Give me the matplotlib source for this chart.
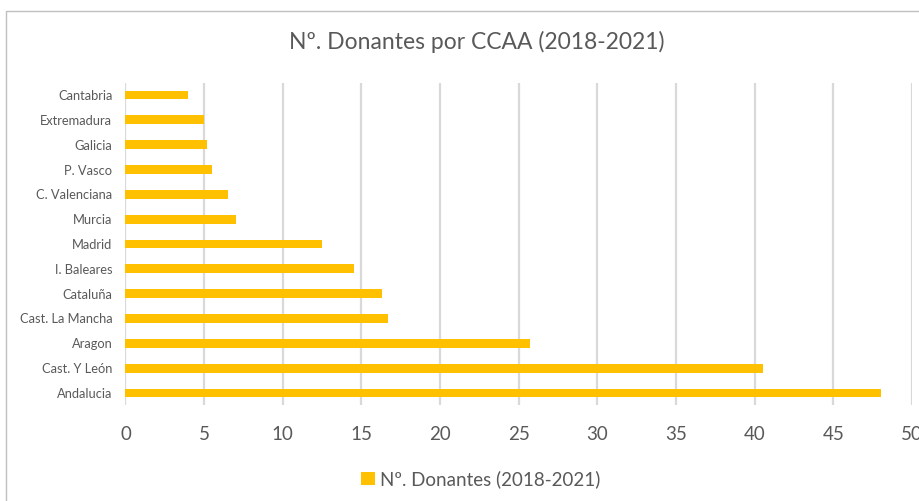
import matplotlib
matplotlib.use("Agg")
import matplotlib.pyplot as plt
from matplotlib.patches import Rectangle

categories = ["Andalucia", "Cast. Y León", "Aragon", "Cast. La Mancha", "Cataluña",
              "I. Baleares", "Madrid", "Murcia", "C. Valenciana", "P. Vasco",
              "Galicia", "Extremadura", "Cantabria"]
values = [48, 40.5, 25.7, 16.7, 16.3, 14.5, 12.5, 7.0, 6.5, 5.5, 5.2, 5.0, 4.0]
xticks = [0, 5, 10, 15, 20, 25, 30, 35, 40, 45, 50]
series_name = "Nº. Donantes (2018-2021)"
title = "Nº. Donantes por CCAA (2018-2021)"

plt.rcParams['font.family'] = ['Lato', 'DejaVu Sans']
txt = "#595959"
bar_color = "#FFC000"

fig = plt.figure(figsize=(9.20, 5.01), dpi=100)
fig.patch.set_facecolor("white")
# chart frame (cut off at right/bottom)
fig.patches.append(Rectangle((6/920, -0.1), 1.2, (1 - 11/501) + 0.1,
                             transform=fig.transFigure, fill=False,
                             edgecolor="#BFBFBF", linewidth=1.0))

ax = fig.add_axes([125.5/920, 1 - 405.4/501, (912 - 125.5)/920, (405.4 - 82.6)/501])
ypos = list(range(len(categories)))
bars = ax.barh(ypos, values, height=0.36, color=bar_color, label=series_name, zorder=3)
ax.set_ylim(-0.5, len(categories) - 0.5)
ax.set_xlim(0, 50)
ax.set_xticks(xticks)
ax.set_xticklabels([str(t) for t in xticks], fontsize=13.5, color=txt)
ax.set_yticks(ypos)
ax.set_yticklabels(categories, fontsize=9.3, color=txt)
ax.tick_params(axis='x', length=0, pad=15)
ax.tick_params(axis='y', length=0, pad=9.5)
ax.grid(axis='x', color="#D9D9D9", linewidth=1.6, zorder=0)
ax.set_axisbelow(True)
for s in ax.spines.values():
    s.set_visible(False)

fig.text(477/920, 1 - 42/501, title, ha='center', va='center', fontsize=16.5, color=txt)

leg = fig.legend(handles=[bars], labels=[series_name], loc='center',
                 bbox_to_anchor=(481/920, 1 - 479/501), frameon=False,
                 fontsize=13.5, handlelength=0.7, handleheight=0.7, handletextpad=0.3,
                 labelcolor=txt)

fig.savefig("out.png", dpi=100, facecolor="white")
